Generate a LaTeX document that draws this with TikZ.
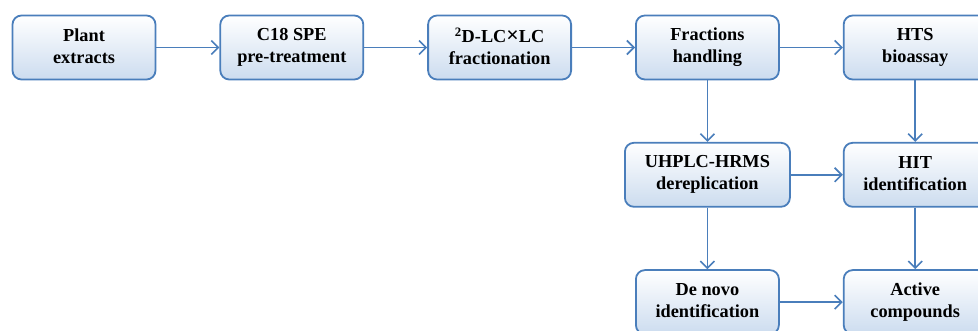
\documentclass[tikz,border=0pt]{standalone}
\usepackage{fontspec}
\setmainfont{Liberation Serif}
\usetikzlibrary{positioning,arrows.meta}

\definecolor{boxline}{HTML}{4A7EBB}
\definecolor{boxfill}{HTML}{CCDCEF}

\begin{document}
\begin{tikzpicture}[
  node distance=61.5pt and 63pt,
  stage/.style={
    rectangle, draw=boxline, line width=1.8pt, rounded corners=9pt,
    top color=white, bottom color=boxfill,
    align=center, font=\fontsize{18.3}{22}\selectfont\bfseries,
    minimum width=143pt, minimum height=64pt,
    execute at begin node={\rule{0pt}{14pt}},
    execute at end node={\rule[-3pt]{0pt}{3pt}}
  },
  arrow/.style={-{Straight Barb[length=7pt,width=14pt]}, draw=boxline, line width=1.6pt}
]

% =====================================================
% TOP ROW
% =====================================================

\node[stage] (plant) {Plant\\extracts};
\node[stage, right=of plant] (spe) {C18 SPE\\pre-treatment};
\node[stage, right=of spe] (lclc) {\textsuperscript{2}D-LC{\fontsize{22}{22}\selectfont ×}LC\\fractionation};
\node[stage, right=of lclc] (fractions) {Fractions\\handling};
\node[stage, right=of fractions] (hts) {HTS\\bioassay};

\draw[arrow] (plant) -- (spe);
\draw[arrow] (spe) -- (lclc);
\draw[arrow] (lclc) -- (fractions);
\draw[arrow] (fractions) -- (hts);

% =====================================================
% IDENTIFICATION
% =====================================================

\node[stage, minimum width=165pt, below=of fractions] (uhplc) {UHPLC-HRMS\\dereplication};
\node[stage, below=of hts] (hit) {HIT\\identification};

\draw[arrow] (fractions) -- (uhplc);
\draw[arrow] (hts) -- (hit);
\draw[arrow] (uhplc) -- (hit);

% =====================================================
% RESULTS
% =====================================================

\node[stage, below=of uhplc] (denovo) {De novo\\identification};
\node[stage, below=of hit] (active) {Active\\compounds};

\draw[arrow] (uhplc) -- (denovo);
\draw[arrow] (hit) -- (active);
\draw[arrow] (denovo) -- (active);

% frame cuts the right column like the original
\pgfresetboundingbox
\useasboundingbox ([xshift=-84pt,yshift=47.5pt]plant.center) rectangle ++(978pt,-331pt);

\end{tikzpicture}
\end{document}
